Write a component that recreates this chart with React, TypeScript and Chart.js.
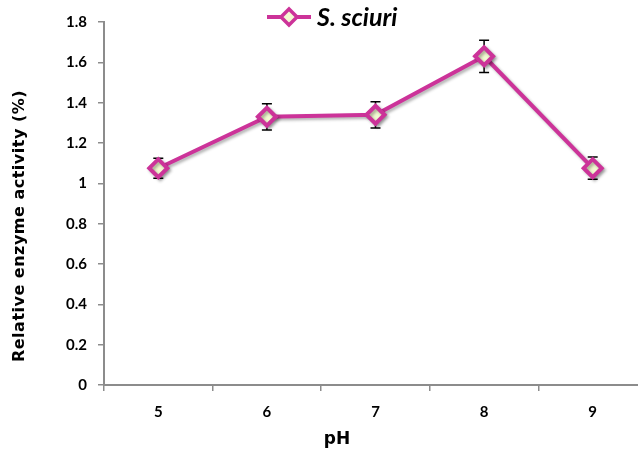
import React, { useEffect, useRef } from "react";
import { Chart, registerables } from "chart.js";

Chart.register(...registerables);

// ---- data ----
const categories = ["5", "6", "7", "8", "9"];
const activity = [1.075, 1.33, 1.34, 1.63, 1.075];
const errors = [0.05, 0.065, 0.065, 0.08, 0.055];
const yTickValues = [0, 0.2, 0.4, 0.6, 0.8, 1, 1.2, 1.4, 1.6, 1.8];
const seriesLabel = "S. sciuri";
const xTitle = "pH";
const yTitle = "Relative enzyme activity (%)";

// ---- styles ----
const LINE_COLOR = "#CC3399";
const MARKER_FILL = "#F3FAD2";
const AXIS_COLOR = "#8C8C8C";
const CANVAS_W = 660;
const CANVAS_H = 455;

const errorBarPlugin = {
  id: "errorBars",
  beforeDatasetsDraw(chart: any) {
    const { ctx } = chart;
    const yScale = chart.scales.y;
    const meta = chart.getDatasetMeta(0);
    ctx.save();
    ctx.strokeStyle = "#000";
    ctx.lineWidth = 1.5;
    meta.data.forEach((pt: any, i: number) => {
      const v = activity[i];
      const e = errors[i];
      const yTop = yScale.getPixelForValue(v + e);
      const yBot = yScale.getPixelForValue(v - e);
      const x = pt.x;
      ctx.beginPath();
      ctx.moveTo(x, yTop);
      ctx.lineTo(x, yBot);
      ctx.moveTo(x - 5, yTop);
      ctx.lineTo(x + 5, yTop);
      ctx.moveTo(x - 5, yBot);
      ctx.lineTo(x + 5, yBot);
      ctx.stroke();
    });
    ctx.restore();
  },
};

const shadowPlugin = {
  id: "lineShadow",
  beforeDatasetDraw(chart: any) {
    const { ctx } = chart;
    ctx.save();
    ctx.shadowColor = "rgba(0,0,0,0.3)";
    ctx.shadowOffsetX = 2;
    ctx.shadowOffsetY = 2;
    ctx.shadowBlur = 3;
  },
  afterDatasetDraw(chart: any) {
    chart.ctx.restore();
  },
};

const textPlugin = {
  id: "customTexts",
  afterDraw(chart: any) {
    const { ctx } = chart;
    const label = chart.data.datasets[0].label;
    ctx.save();
    // legend
    ctx.font = "italic bold 25px Lato, 'Open Sans', sans-serif";
    const lineW = 44;
    const gap = 6;
    const x0 = 267;
    const y = 17;
    ctx.strokeStyle = LINE_COLOR;
    ctx.lineWidth = 4;
    ctx.beginPath();
    ctx.moveTo(x0, y);
    ctx.lineTo(x0 + lineW, y);
    ctx.stroke();
    const mx = x0 + lineW / 2;
    const r = 8;
    ctx.beginPath();
    ctx.moveTo(mx, y - r);
    ctx.lineTo(mx + r, y);
    ctx.lineTo(mx, y + r);
    ctx.lineTo(mx - r, y);
    ctx.closePath();
    ctx.fillStyle = MARKER_FILL;
    ctx.fill();
    ctx.lineWidth = 3.5;
    ctx.stroke();
    ctx.fillStyle = "#000";
    ctx.textBaseline = "middle";
    ctx.textAlign = "left";
    ctx.fillText(label, x0 + lineW + gap, y + 1);

    // axis titles
    ctx.textAlign = "center";
    ctx.font = "bold 17px 'DejaVu Sans', sans-serif";
    ctx.fillText(xTitle, 337, 440);

    ctx.save();
    ctx.translate(20, 226);
    ctx.rotate(-Math.PI / 2);
    ctx.font = "bold 16px 'DejaVu Sans', sans-serif";
    (ctx as any).letterSpacing = "0.5px";
    ctx.fillText(yTitle, 0, 0);
    ctx.restore();

    ctx.restore();
  },
};

export default function App() {
  const ref = useRef<HTMLCanvasElement | null>(null);

  useEffect(() => {
    if (!ref.current) return;
    const chart = new Chart(ref.current, {
      type: "line",
      data: {
        labels: categories,
        datasets: [
          {
            label: seriesLabel,
            data: activity,
            borderColor: LINE_COLOR,
            borderWidth: 4,
            backgroundColor: MARKER_FILL,
            pointStyle: "rectRot",
            pointRadius: 9,
            pointHoverRadius: 9,
            pointBorderWidth: 4,
            pointBorderColor: LINE_COLOR,
            pointBackgroundColor: MARKER_FILL,
            tension: 0,
          },
        ],
      },
      options: {
        animation: false,
        responsive: false,
        devicePixelRatio: 1,
        layout: { padding: { top: 22, right: 13, bottom: 0, left: 0 } },
        plugins: {
          legend: { display: false },
          tooltip: { enabled: false },
        },
        scales: {
          x: {
            type: "category",
            offset: true,
            border: { display: true, color: AXIS_COLOR, width: 2 },
            grid: {
              display: true,
              offset: true,
              drawOnChartArea: false,
              drawTicks: true,
              tickLength: 6,
              color: AXIS_COLOR,
              lineWidth: 1.5,
            },
            ticks: {
              color: "#000",
              padding: 12,
              font: { family: "Lato, 'Open Sans', sans-serif", size: 15, weight: "bold" },
            },
            title: { display: false },
            afterFit(scale: any) {
              scale.height = 70;
            },
          },
          y: {
            type: "linear",
            min: 0,
            max: 1.8,
            afterBuildTicks(scale: any) {
              scale.ticks = yTickValues.map((v) => ({ value: v }));
            },
            border: { display: true, color: AXIS_COLOR, width: 2 },
            grid: {
              display: true,
              drawOnChartArea: false,
              drawTicks: true,
              tickLength: 6,
              color: AXIS_COLOR,
              lineWidth: 1.5,
            },
            ticks: {
              color: "#000",
              padding: 11,
              font: { family: "Lato, 'Open Sans', sans-serif", size: 15, weight: "bold" },
              callback: (v: any) => String(Math.round(Number(v) * 10) / 10),
            },
            title: { display: false },
            afterFit(scale: any) {
              scale.width = 104;
            },
          },
        },
      },
      plugins: [errorBarPlugin, shadowPlugin, textPlugin],
    });
    return () => chart.destroy();
  }, []);

  return (
    <div
      style={{
        position: "fixed",
        left: 0,
        top: 0,
        width: 638,
        height: 455,
        overflow: "hidden",
        background: "#fff",
      }}
    >
      <canvas
        ref={ref}
        width={CANVAS_W}
        height={CANVAS_H}
        style={{ display: "block", width: CANVAS_W, height: CANVAS_H }}
      />
    </div>
  );
}
